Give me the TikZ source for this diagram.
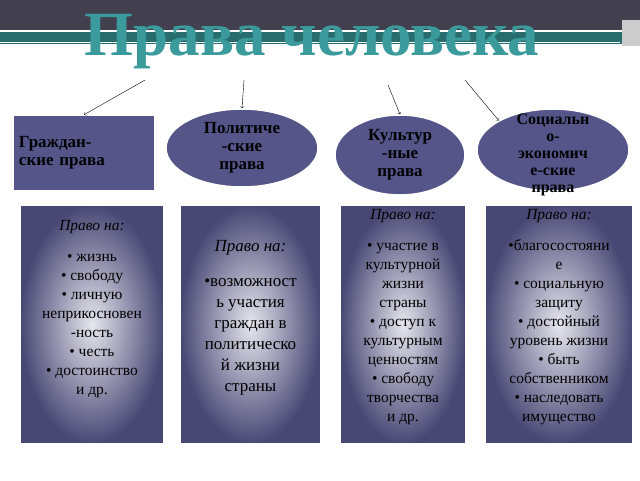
\documentclass[tikz,border=0pt]{standalone}
\usepackage{fontspec}
\setmainfont{Liberation Serif}
\usetikzlibrary{shapes.geometric}
\definecolor{band}{HTML}{42404F}
\definecolor{teal}{HTML}{3A9A9C}
\definecolor{violet}{HTML}{56558A}
\tikzset{
  kind/.style={draw=white, line width=1.5pt, fill=violet, align=center, font=\bfseries\fontsize{17}{18}\selectfont},
  oval/.style={kind, ellipse, inner sep=0pt},
  listbox/.style={draw=white, line width=1pt, inner color=violet!15, outer color=violet!85!black, minimum height=238pt, anchor=north west},
  listtext/.style={align=center, anchor=north, font=\fontsize{15.5}{19}\selectfont},
}
\begin{document}
\begin{tikzpicture}[x=1pt, y=-1pt]
    \useasboundingbox (0,0) rectangle (640,480);
    % Header bands
    \fill[band] (0,0) rectangle (640,30);
    \fill[teal!70!black] (0,32) rectangle (640,44);
    \draw[white, line width=1pt] (0,42) -- (620,42);
    \fill[gray!40] (622,20) rectangle (640,46);
    \node[font=\bfseries\fontsize{63}{63}\selectfont, text=teal] (title) at (312,42) {Права человека};

    % Kinds of rights
    \node[kind, minimum width=141pt, minimum height=75pt, text width=130pt, align=left] (civil) at (84,153) {Граждан-\\ские права};
    \node[oval, minimum width=152pt, minimum height=78pt] (polit) at (242,148) {Политиче\\-ские\\права};
    \node[oval, minimum width=130pt, minimum height=80pt] (cult) at (400,155) {Культур\\-ные\\права};
    \node[oval, minimum width=152pt, minimum height=82pt] (soc) at (553,150) {};
    \node[font=\bfseries\fontsize{16}{17}\selectfont, align=center] (soctext) at (553,155) {Социальн\\о-\\экономич\\е-ские\\права};

    % Arrows from title
    \coordinate (a1) at (145,80);
    \coordinate (a2) at (244,80);
    \coordinate (a3) at (388,85);
    \coordinate (a4) at (465,80);
    \draw[->] (a1) -- (civil.north);
    \draw[->] (a2) -- (polit.north);
    \draw[->] (a3) -- (cult.north);
    \draw[->] (a4) -- (soc.north west);

    % Lists
    \node[listbox, minimum width=143pt] (civlist) at (20,205) {};
    \node[listbox, minimum width=140pt] (pollist) at (180,205) {};
    \node[listbox, minimum width=125pt] (cultlist) at (340,205) {};
    \node[listbox, minimum width=147pt] (soclist) at (485,205) {};
    \node[listtext] (civtext) at ([yshift=-12pt]civlist.north) {\textit{Право на:}\\[12pt]
      • жизнь\\• свободу\\• личную\\неприкосновен\\-ность\\• честь\\• достоинство\\и др.};
    \node[listtext, font=\fontsize{17}{21}\selectfont] (poltext) at ([yshift=-32pt]pollist.north) {\textit{Право на:}\\[14pt]
      •возможност\\ь участия\\граждан в\\политическо\\й жизни\\страны};
    \node[listtext] (culttext) at ([yshift=-1pt]cultlist.north) {\textit{Право на:}\\[12pt]
      • участие в\\культурной\\жизни\\страны\\• доступ к\\культурным\\ценностям\\• свободу\\творчества\\и др.};
    \node[listtext] (soctext2) at ([yshift=-1pt]soclist.north) {\textit{Право на:}\\[12pt]
      •благосостояни\\е\\• социальную\\защиту\\• достойный\\уровень жизни\\• быть\\собственником\\• наследовать\\имущество};
\end{tikzpicture}
\end{document}
